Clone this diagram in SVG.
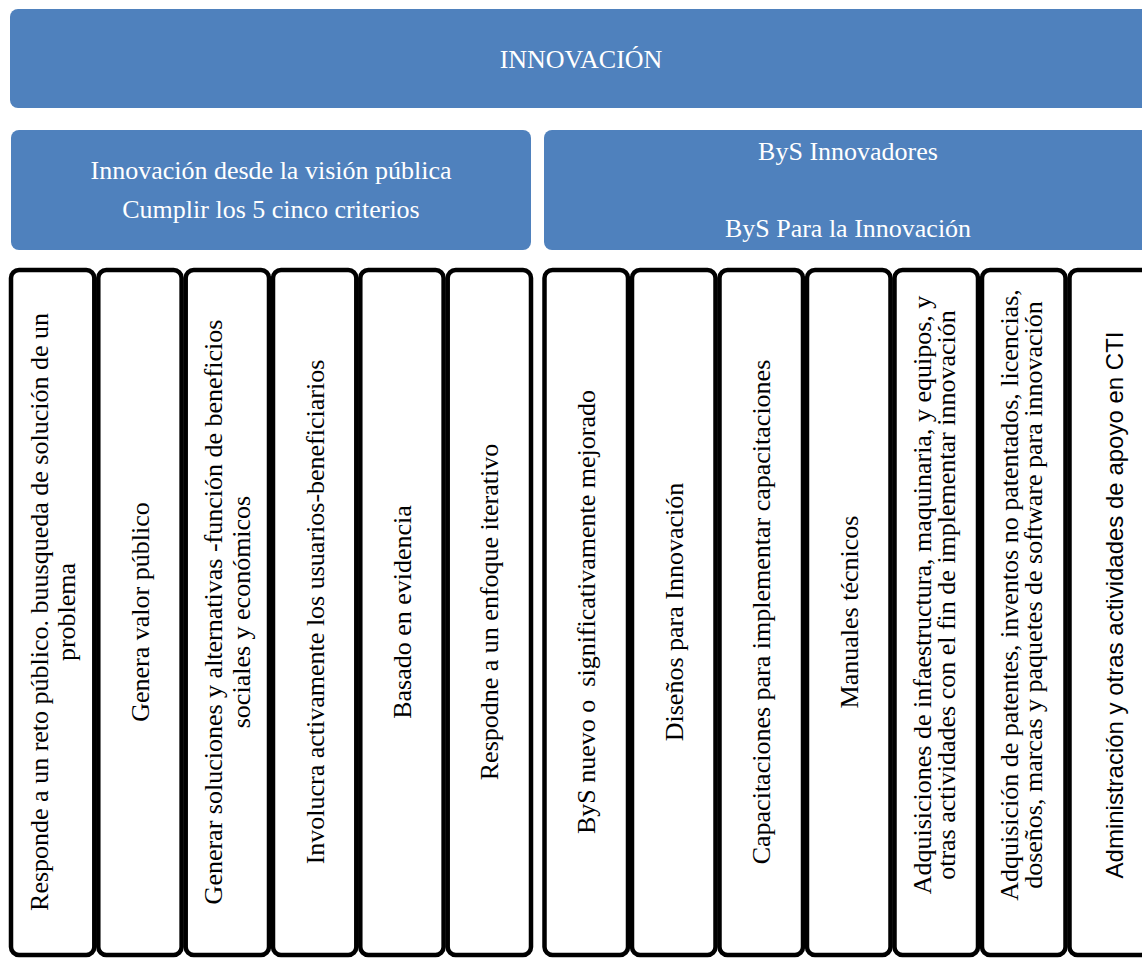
<svg xmlns="http://www.w3.org/2000/svg" width="1142" height="958" viewBox="0 0 1142 958">
<style>
.hdr{fill:#4F81BD;}
.ht{font-family:"Liberation Serif","Times New Roman",serif;font-size:26px;fill:#FFFFFF;text-anchor:middle;}
.col{fill:#FFFFFF;stroke:#000000;stroke-width:4.5;}
.ct{font-family:"Liberation Serif","Times New Roman",serif;font-size:26px;fill:#000000;text-anchor:middle;}
.cs{font-family:"Liberation Sans",Arial,sans-serif;font-size:24px;fill:#000000;text-anchor:middle;}
</style>
<rect width="1142" height="958" fill="#FFFFFF"/>
<g id="innovacion">
<rect class="hdr" x="10" y="9" width="1143" height="99" rx="8"/>
<text class="ht" x="581" y="68">INNOVACIÓN</text>
</g>
<g id="vision-publica">
<rect class="hdr" x="11" y="130" width="520" height="120" rx="8"/>
<text class="ht" x="271" y="179">Innovación desde la visión pública</text>
<text class="ht" x="271" y="218">Cumplir los 5 cinco criterios</text>
</g>
<g id="bys">
<rect class="hdr" x="544" y="130" width="610" height="120" rx="8"/>
<text class="ht" x="848" y="160">ByS Innovadores</text>
<text class="ht" x="848" y="237">ByS Para la Innovación</text>
</g>
<g id="connectors"></g>
<g id="c1">
<rect class="col" x="11" y="270" width="83.3" height="685" rx="8"/>
<text class="ct" transform="rotate(-90 47.5 612)" x="47.5" y="612">Responde a un reto público. buusqueda de solución de un</text>
<text class="ct" transform="rotate(-90 75 612)" x="75" y="612">problema</text>
</g>
<g id="c2">
<rect class="col" x="98.3" y="270" width="83.3" height="685" rx="8"/>
<text class="ct" transform="rotate(-90 148.8 612)" x="148.8" y="612">Genera valor público</text>
</g>
<g id="c3">
<rect class="col" x="185.7" y="270" width="83.3" height="685" rx="8"/>
<text class="ct" transform="rotate(-90 222 612)" x="222" y="612">Generar soluciones y alternativas -función de beneficios</text>
<text class="ct" transform="rotate(-90 249.5 612)" x="249.5" y="612">sociales y económicos</text>
</g>
<g id="c4">
<rect class="col" x="273" y="270" width="83.3" height="685" rx="8"/>
<text class="ct" transform="rotate(-90 323.5 612)" x="323.5" y="612">Involucra activamente los usuarios-beneficiarios</text>
</g>
<g id="c5">
<rect class="col" x="360.3" y="270" width="83.3" height="685" rx="8"/>
<text class="ct" transform="rotate(-90 410.8 612)" x="410.8" y="612">Basado en evidencia</text>
</g>
<g id="c6">
<rect class="col" x="447.7" y="270" width="83.3" height="685" rx="8"/>
<text class="ct" transform="rotate(-90 498 612)" x="498" y="612">Respodne a un enfoque iterativo</text>
</g>
<g id="c7">
<rect class="col" x="544.5" y="270" width="83.5" height="685" rx="8"/>
<text class="ct" transform="rotate(-90 595 612)" x="595" y="612" xml:space="preserve">ByS nuevo o  significativamente mejorado</text>
</g>
<g id="c8">
<rect class="col" x="632" y="270" width="83.5" height="685" rx="8"/>
<text class="ct" transform="rotate(-90 682.5 612)" x="682.5" y="612">Diseños para Innovación</text>
</g>
<g id="c9">
<rect class="col" x="719.5" y="270" width="83.5" height="685" rx="8"/>
<text class="ct" transform="rotate(-90 770 612)" x="770" y="612">Capacitaciones para implementar capacitaciones</text>
</g>
<g id="c10">
<rect class="col" x="807" y="270" width="83.5" height="685" rx="8"/>
<text class="ct" transform="rotate(-90 857.5 612)" x="857.5" y="612">Manuales técnicos</text>
</g>
<g id="c11">
<rect class="col" x="894.5" y="270" width="83.5" height="685" rx="8"/>
<text class="ct" transform="rotate(-90 931 595)" x="931" y="595">Adquisiciones de infaestructura, maquinaria, y equipos, y</text>
<text class="ct" transform="rotate(-90 955 595)" x="955" y="595">otras actividades con el fin de implementar innovación</text>
</g>
<g id="c12">
<rect class="col" x="982" y="270" width="83.5" height="685" rx="8"/>
<text class="ct" transform="rotate(-90 1018 595)" x="1018" y="595">Adquisición de patentes, inventos no patentados, licencias,</text>
<text class="ct" transform="rotate(-90 1042 595)" x="1042" y="595">doseños, marcas y paquetes de software para innovación</text>
</g>
<g id="c13">
<rect class="col" x="1069.5" y="270" width="83.5" height="685" rx="8"/>
<text class="cs" transform="rotate(-90 1123 605)" x="1123" y="605">Administración y otras actividades de apoyo en CTI</text>
</g>
</svg>
